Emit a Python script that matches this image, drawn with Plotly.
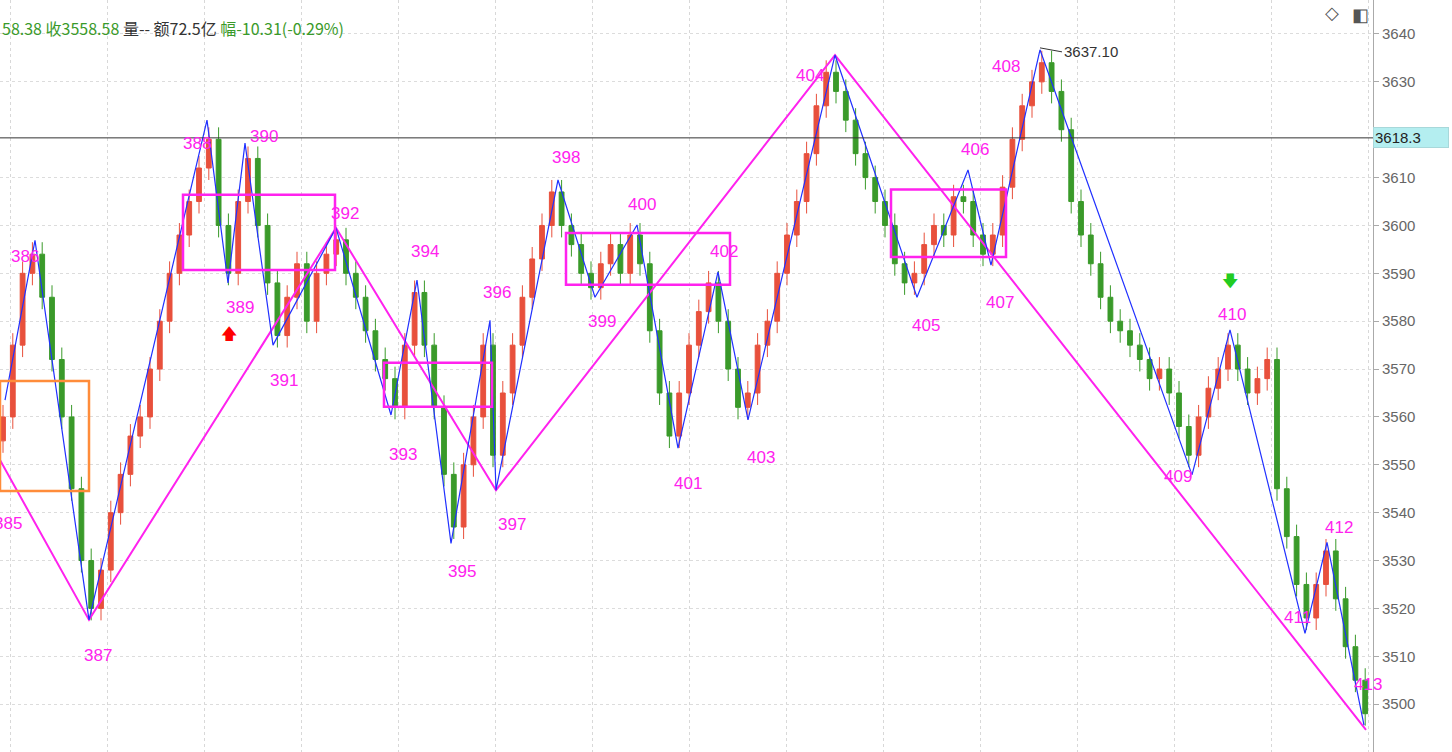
import plotly.graph_objects as go

closes = [3560,3575,3590,3594, 3585,3572,3560,3545,3530,3520,
          3528,3540,3548,3556,3560,3570,3580,3590,3598,3605,3612,3618,
          3600,3590, 3605,3614, 3600,3588,3577, 3585,3592,3580,3590,3594,3597,
          3590,3585,3578,3572,3568,3562, 3575,3586, 3575,3562,3548,3537,
          3550,3560,3575,3552, 3565,3575,3585,3593,3600,3607,
          3600,3596,3590,3587, 3592,3596,3590,3598, 3592,3578,3565,3556,
          3565,3575,3582,3588, 3580,3570,3562,
          3565,3575,3580,3590,3598,3605,3615,3625,3632,
          3628,3622,3615,3610,3605,3600,3592,3588,
          3590,3596,3600,3598,3606, 3605,3598,3594,3598,
          3608,3618,3625,3630,3634,
          3628,3620,3605,3598,3592,3585,3580,3578,3575,3572,3568,3570,3565,3558,3552,
          3560,3566,3570,3575, 3570,3565,3568,3572,
          3545,3535,3525,3518, 3525,3532, 3522,3512,3505,3498]
first_open = 3555
wick = 2.5

blue_x = [5,35,89,207,228,245,273,336,391,417,451,490,496,558,595,637,678,718,748,835,917,968,991,1040,1192,1230,1305,1327,1364]
blue_y = [3563.5,3596.9,3517.6,3622.0,3588.0,3617.2,3575.0,3599.5,3560.4,3588.6,3533.6,3580.2,3544.7,3609.5,3585.0,3600.1,3553.5,3590.3,3559.4,3635.6,3585.0,3611.6,3591.7,3636.7,3547.9,3578.2,3514.8,3533.8,3495.6]

pink_x = [0,89,336,496,835,1366]
pink_y = [3551,3517.6,3599.5,3544.7,3635.6,3494.6]

boxes = [(183,335,3590.7,3606.4),(384,492,3562.1,3571.3),(566,730,3587.6,3598.4),(891,1006,3593.4,3607.5)]
orange_box = (0,89,3544.5,3567.5)

labels = ["384","385","386","387","388","389","390","391","392","393","394","395","396","397","398",
          "399","400","401","402","403","404","405","406","407","408","409","410","411","412","413"]
label_x = [-8,8,25,98,197,240,264,284,345,403,425,462,497,512,566,602,642,688,724,761,810,926,975,1000,1006,1178,1232,1297,1339,1368]
label_y = [3576.1,3537.8,3593.6,3510.2,3617.2,3582.8,3618.5,3567.7,3602.4,3552.2,3594.5,3527.8,3585.9,3537.6,3614.3,
           3580.0,3604.3,3546.0,3594.5,3551.6,3631.4,3579.0,3615.8,3584.0,3633.3,3547.6,3581.5,3518.2,3537.0,3504.2]

tick_vals = [3500,3510,3520,3530,3540,3550,3560,3570,3580,3590,3600,3610,3630,3640]
last_price = 3618.3
high_mark = 3637.10

opens = [first_open] + closes[:-1]
xs = [3 + i * 9.8 for i in range(len(closes))]
highs = [max(o, c) + wick for o, c in zip(opens, closes)]
lows = [min(o, c) - wick for o, c in zip(opens, closes)]

fig = go.Figure()
fig.add_trace(go.Candlestick(x=xs, open=opens, high=highs, low=lows, close=closes,
    increasing=dict(line=dict(color="#e8503c", width=1), fillcolor="#e8503c"),
    decreasing=dict(line=dict(color="#3a9a2a", width=1), fillcolor="#3a9a2a"),
    whiskerwidth=0, hoverinfo="skip"))
fig.add_trace(go.Scatter(x=pink_x, y=pink_y, mode="lines", line=dict(color="#ff22ee", width=2), hoverinfo="skip"))
fig.add_trace(go.Scatter(x=blue_x, y=blue_y, mode="lines", line=dict(color="#2030ff", width=1.2), hoverinfo="skip"))

for x0, x1, y0, y1 in boxes:
    fig.add_shape(type="rect", x0=x0, x1=x1, y0=y0, y1=y1, line=dict(color="#ff22ee", width=2.5))
fig.add_shape(type="rect", x0=orange_box[0], x1=orange_box[1], y0=orange_box[2], y1=orange_box[3],
              line=dict(color="#ff8c3a", width=2.5))
fig.add_shape(type="line", x0=0, x1=1, xref="paper", y0=last_price, y1=last_price, line=dict(color="#333", width=1))

for t, x, y in zip(labels, label_x, label_y):
    fig.add_annotation(x=x, y=y, text=t, showarrow=False, font=dict(color="#ff22ee", size=17, family="Liberation Sans"))

fig.add_annotation(x=1040, y=high_mark, ax=22, ay=4, text=f"{high_mark:.2f}", showarrow=True, arrowhead=0,
                   arrowcolor="#333", arrowwidth=1, xanchor="left", font=dict(color="#333", size=15, family="Liberation Sans"))
fig.add_annotation(x=229, y=3577.5, text="🡅", showarrow=False, font=dict(color="#ff0000", size=16))
fig.add_annotation(x=1230, y=3588.7, text="🡇", showarrow=False, font=dict(color="#22cc22", size=16))

fig.add_annotation(x=1, xref="paper", xanchor="left", y=last_price, text="3618.3", showarrow=False,
                   bgcolor="#b4eef0", bordercolor="#a8d8da", font=dict(color="#222", size=15, family="Liberation Sans"),
                   width=72, align="left")
fig.add_annotation(x=0, xref="paper", xanchor="left", y=1, yref="paper", yanchor="top", yshift=-14,
                   text="<span style='color:#3a9a2a'>58.38 收3558.58 </span><span style='color:#333'>量-- 额72.5亿 </span><span style='color:#3a9a2a'>幅-10.31(-0.29%)</span>",
                   showarrow=False, font=dict(size=16, family="Noto Sans CJK SC"))
fig.add_annotation(x=1332, y=1, yref="paper", yanchor="top", yshift=2, text="◇", showarrow=False,
                   font=dict(size=18, color="#555"))
fig.add_annotation(x=1360, y=1, yref="paper", yanchor="top", yshift=0, text="◧", showarrow=False,
                   font=dict(size=18, color="#555"))

fig.update_layout(width=1452, height=752, margin=dict(l=0, r=79, t=0, b=0, autoexpand=False),
                  plot_bgcolor="white", paper_bgcolor="white", showlegend=False,
                  xaxis=dict(range=[0, 1373], rangeslider=dict(visible=False), showticklabels=False,
                             tick0=10, dtick=97, showgrid=True, gridcolor="#d8d8d8", griddash="dot", zeroline=False),
                  yaxis=dict(range=[3490.0, 3647.1], side="right", tickvals=tick_vals, showgrid=True,
                             gridcolor="#dcdcdc", griddash="dot", ticks="outside", ticklen=5, tickcolor="#aaa",
                             showline=True, linecolor="#aaa", zeroline=False,
                             tickfont=dict(size=15, color="#666", family="Liberation Sans")))
fig.write_html("out.html", config={"displayModeBar": False},
               post_script="document.body.style.margin='0';document.body.style.overflow='hidden';")
